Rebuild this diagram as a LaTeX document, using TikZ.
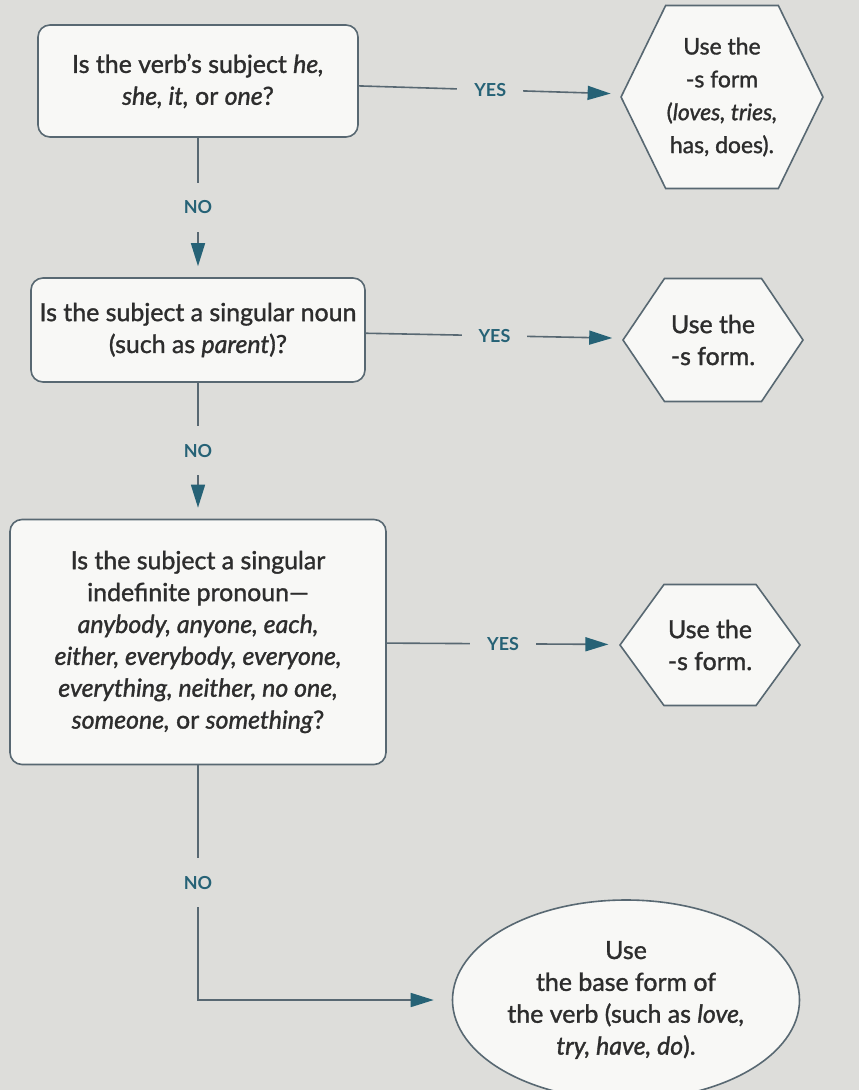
\documentclass[tikz,border=0pt]{standalone}
\usepackage{fontspec}
\setmainfont{Lato}[UprightFeatures={FakeBold=1.3}, ItalicFeatures={FakeBold=1.3}]
\usepackage{xcolor}
\usetikzlibrary{arrows.meta,shapes.geometric,shapes.symbols,positioning}

\definecolor{paper}{RGB}{221,221,218}
\definecolor{boxfill}{RGB}{248,248,246}
\definecolor{edgeline}{RGB}{88,104,114}
\definecolor{labelteal}{RGB}{38,98,118}
\definecolor{inktext}{RGB}{45,45,45}

\tikzset{
  question/.style={draw=edgeline, fill=boxfill, rounded corners=12bp, align=center, inner sep=0pt, text=inktext},
  answer/.style={draw=edgeline, fill=boxfill, shape=signal, signal to=west and east, signal pointer angle=118, align=center, inner sep=1bp, text=inktext},
  final/.style={draw=edgeline, fill=boxfill, ellipse, align=center, inner sep=0pt, text=inktext},
  yesno/.style={font=\bfseries\fontsize{18}{20}\selectfont, text=labelteal, fill=paper, inner xsep=17bp, inner ysep=18bp}
}

\begin{document}
\begin{tikzpicture}[->, >={Triangle[length=23bp,width=14bp,color=labelteal]}, shorten >=11bp, line width=1.6bp, draw=edgeline, node distance=249bp, font=\fontsize{25}{32}\selectfont]
\fill[paper] (0,0) rectangle (859bp,-1090bp);
\useasboundingbox (0,0) rectangle (859bp,-1090bp);

% questions down the left
\node[question, minimum width=320bp, minimum height=112bp] (q1) at (198bp,-81bp) {Is the verb’s subject \textit{he,}\\ \textit{she, it,} or \textit{one}?};
\node[question, minimum width=334bp, minimum height=104bp] (q2) [below of=q1] {Is the subject a singular noun\\ (such as \textit{parent})?};
\node[question, minimum width=376bp, minimum height=245bp] (q3) [node distance=312bp, below of=q2] {Is the subject a singular\\ indefinite pronoun—\\ \textit{anybody, anyone, each,}\\ \textit{either, everybody, everyone,}\\ \textit{everything, neither, no one,}\\ \textit{someone,} or \textit{something}?};

% answers on the right
\node[answer, minimum width=191bp, minimum height=183bp, signal pointer angle=128, font=\fontsize{23}{33}\selectfont] (a1) [node distance=524bp, right of=q1, yshift=-16bp] {Use the\\ -s form\\ (\textit{loves, tries,}\\ has, does).};
\node[answer, minimum width=180bp, minimum height=123bp, signal pointer angle=112] (a2) [node distance=515bp, right of=q2, yshift=-10bp] {Use the\\ -s form.};
\node[answer, minimum width=180bp, minimum height=121bp, signal pointer angle=108] (a3) [node distance=512bp, right of=q3, yshift=-3bp] {Use the\\ -s form.};
\node[final, minimum width=347bp, minimum height=200bp] (a4) [node distance=358bp, below of=q3, xshift=428bp] {Use\\ the base form of\\ the verb (such as \textit{love,}\\ \textit{try, have, do}).};

\path
(q1) edge node[yesno] {YES} (a1)
(q2) edge node[yesno] {YES} (a2)
(q3) edge node[yesno] {YES} (a3)

(q1) edge node[yesno] {NO} (q2)
(q2) edge node[yesno] {NO} (q3);

\draw[shorten >=18bp] (q3.south) |- node[yesno, pos=0.25] {NO} (a4.west);
\end{tikzpicture}
\end{document}
